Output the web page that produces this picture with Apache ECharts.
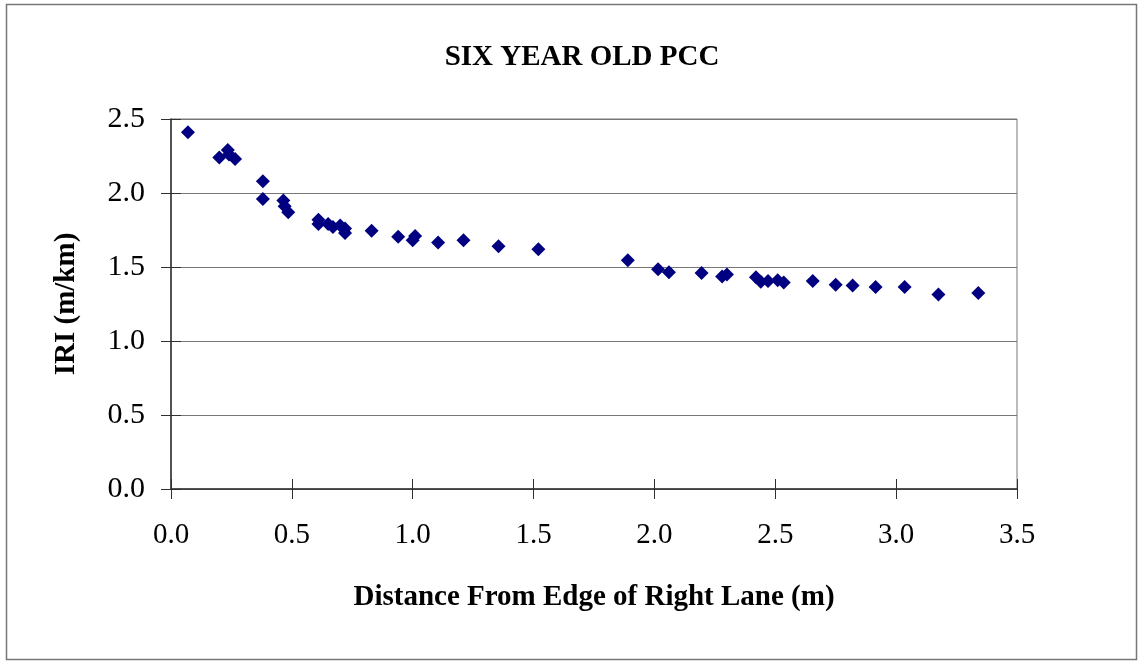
<!DOCTYPE html>
<html>
<head>
<meta charset="utf-8">
<script src="https://cdn.jsdelivr.net/npm/echarts@6/dist/echarts.min.js"></script>
<style>html,body{margin:0;padding:0;background:#fff}#c{width:1140px;height:664px}</style>
</head>
<body>
<div id="c"></div>
<script>
var title = 'SIX YEAR OLD PCC';
var xName = 'Distance From Edge of Right Lane (m)';
var yName = 'IRI (m/km)';
var distance = [0.07, 0.20, 0.235, 0.24, 0.265, 0.38, 0.38, 0.465, 0.47, 0.485, 0.61, 0.61, 0.65, 0.67, 0.70, 0.72, 0.72, 0.83, 0.94, 1.0, 1.01, 1.105, 1.21, 1.355, 1.52, 1.89, 2.015, 2.06, 2.195, 2.28, 2.30, 2.42, 2.44, 2.47, 2.51, 2.535, 2.655, 2.75, 2.82, 2.915, 3.035, 3.175, 3.34];
var iri = [2.41, 2.24, 2.29, 2.26, 2.23, 2.08, 1.96, 1.95, 1.91, 1.87, 1.82, 1.79, 1.79, 1.77, 1.78, 1.76, 1.73, 1.745, 1.705, 1.68, 1.71, 1.665, 1.68, 1.64, 1.62, 1.545, 1.485, 1.465, 1.46, 1.435, 1.45, 1.43, 1.40, 1.405, 1.41, 1.395, 1.405, 1.38, 1.375, 1.365, 1.365, 1.315, 1.325];

var pts = distance.map(function (d, i) { return [d, iri[i]]; });
var font = 'Liberation Serif';
var axisCol = '#303030';
var chart = echarts.init(document.getElementById('c'), null, {renderer: 'canvas'});
chart.setOption({
  backgroundColor: '#fff',
  animation: false,
  title: {
    text: title, left: 577, top: 38, textAlign: 'center',
    textStyle: {fontFamily: font, fontSize: 29, fontWeight: 'bold', color: '#000'}
  },
  graphic: [{
    type: 'rect', shape: {x: 6.5, y: 4.5, width: 1130, height: 655},
    style: {fill: 'none', stroke: '#777', lineWidth: 1.5}, silent: true
  }],
  grid: {left: 171, top: 119, right: 123, bottom: 175, show: true, borderColor: '#777', borderWidth: 1, backgroundColor: 'transparent'},
  xAxis: [{
    type: 'value', min: 0, max: 3.5, interval: 0.5,
    name: xName, nameLocation: 'middle', nameGap: 94,
    nameTextStyle: {fontFamily: font, fontSize: 29, fontWeight: 'bold', color: '#000'},
    axisLine: {lineStyle: {color: axisCol, width: 1.5}},
    axisTick: {length: 10, lineStyle: {color: axisCol}},
    axisLabel: {fontFamily: font, fontSize: 29, color: '#000', margin: 32, formatter: function (v) { return v.toFixed(1); }},
    splitLine: {show: false}
  }, {
    type: 'value', min: 0, max: 3.5, interval: 0.5, position: 'bottom',
    axisLine: {show: false},
    axisTick: {inside: true, length: 10, lineStyle: {color: axisCol}},
    axisLabel: {show: false}, splitLine: {show: false}
  }],
  yAxis: [{
    type: 'value', min: 0, max: 2.5, interval: 0.5,
    name: yName, nameLocation: 'middle', nameGap: 90, nameRotate: 90,
    nameTextStyle: {fontFamily: font, fontSize: 29, fontWeight: 'bold', color: '#000'},
    axisLine: {show: true, lineStyle: {color: axisCol, width: 1.5}},
    axisTick: {show: true, length: 10, lineStyle: {color: axisCol}},
    axisLabel: {fontFamily: font, fontSize: 30, color: '#000', margin: 26, formatter: function (v) { return v.toFixed(1); }},
    splitLine: {show: true, lineStyle: {color: '#777', width: 1.2}}
  }, {
    type: 'value', min: 0, max: 2.5, interval: 0.5, position: 'left',
    axisLine: {show: false},
    axisTick: {show: true, inside: true, length: 10, lineStyle: {color: axisCol}},
    axisLabel: {show: false}, splitLine: {show: false}
  }],
  series: [{
    type: 'scatter', xAxisIndex: 0, yAxisIndex: 0,
    data: pts, symbol: 'diamond', symbolSize: 14,
    itemStyle: {color: '#000080', opacity: 1}
  }]
});
</script>
</body>
</html>
